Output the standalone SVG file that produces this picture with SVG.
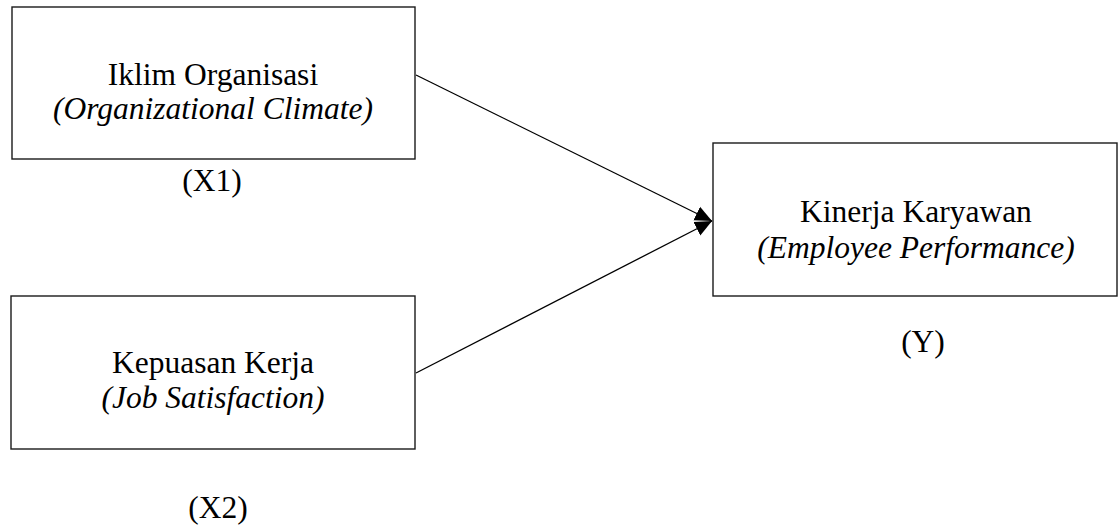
<svg xmlns="http://www.w3.org/2000/svg" width="1120" height="529" viewBox="0 0 1120 529">
<style>
.box{fill:#fff;stroke:#1a1a1a;stroke-width:1.4}
.t{font-family:"Liberation Serif","Times New Roman",serif;font-size:31.5px;fill:#000;text-anchor:middle}
.i{font-style:italic}
.c{stroke:#000;stroke-width:1.3;fill:none}
</style>
<defs>
<marker id="ah" markerUnits="userSpaceOnUse" markerWidth="18" markerHeight="16" refX="17" refY="7.5" orient="auto" viewBox="0 0 18 15">
<path d="M0,0 L17,7.5 L0,15 z" fill="#000"/>
</marker>
</defs>
<rect width="1120" height="529" fill="#fff"/>
<g id="connectors">
<line class="c" x1="416" y1="75" x2="712" y2="221" marker-end="url(#ah)"/>
<line class="c" x1="416" y1="373" x2="712" y2="221" marker-end="url(#ah)"/>
</g>
<g id="x1">
<rect class="box" x="12" y="7" width="403" height="152"/>
<text class="t" x="213" y="85">Iklim Organisasi</text>
<text class="t i" x="213" y="119">(Organizational Climate)</text>
<text class="t" x="212" y="191">(X1)</text>
</g>
<g id="x2">
<rect class="box" x="11" y="296" width="404" height="153"/>
<text class="t" x="213" y="373">Kepuasan Kerja</text>
<text class="t i" x="213" y="408">(Job Satisfaction)</text>
<text class="t" x="218" y="518">(X2)</text>
</g>
<g id="y">
<rect class="box" x="713" y="143" width="404" height="153"/>
<text class="t" x="916" y="222">Kinerja Karyawan</text>
<text class="t i" x="916" y="258">(Employee Performance)</text>
<text class="t" x="923" y="352">(Y)</text>
</g>
</svg>
